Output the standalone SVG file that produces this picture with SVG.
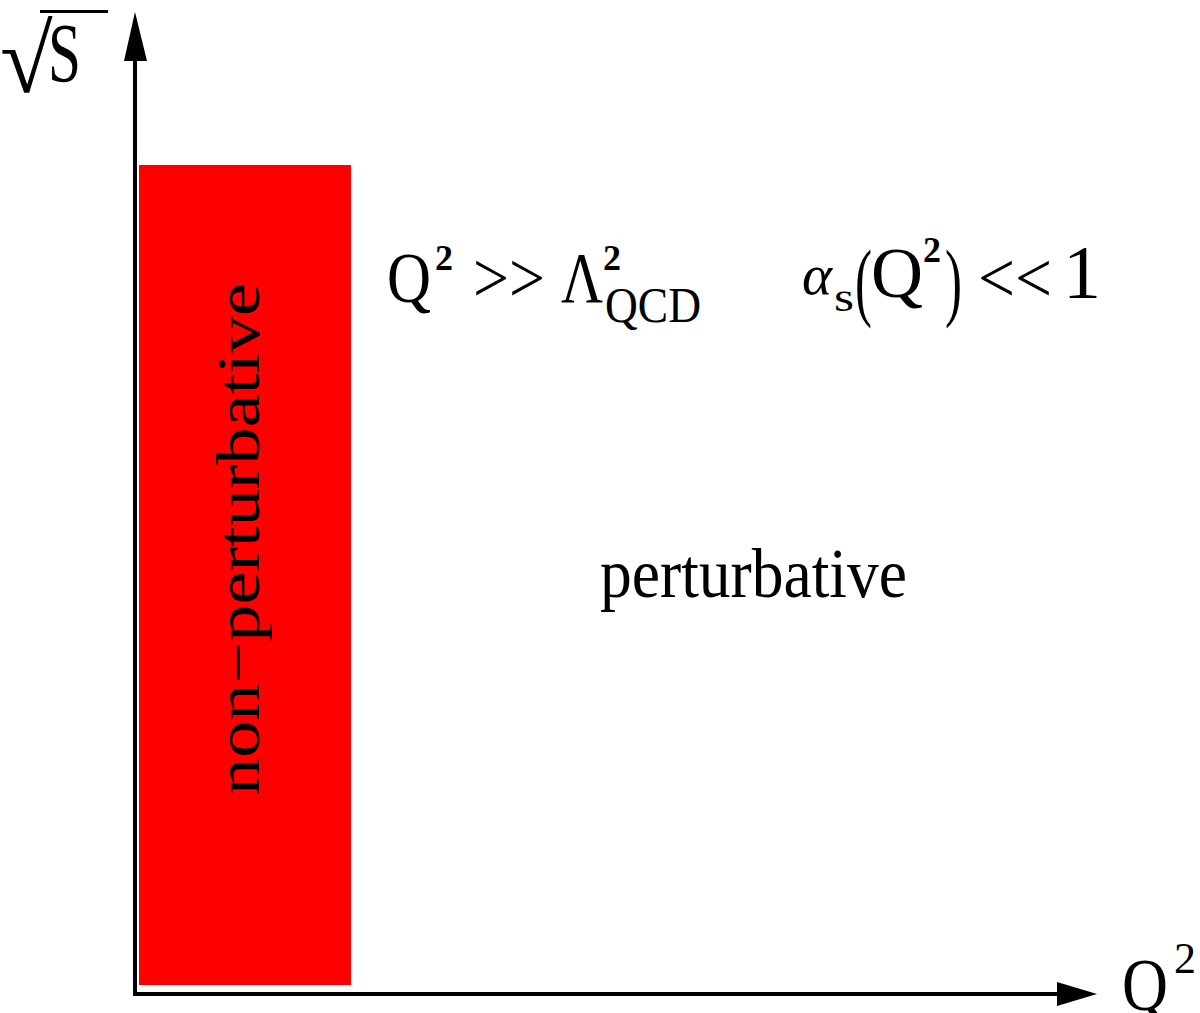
<svg xmlns="http://www.w3.org/2000/svg" width="1200" height="1013" viewBox="0 0 1200 1013">
<style>
.t{font-family:"Liberation Serif","Times New Roman",serif;fill:#000}
.ax{stroke:#000;stroke-width:4;fill:none}
</style>
<rect width="1200" height="1013" fill="#fff"/>
<g id="region-nonpert">
<rect x="139" y="165" width="212" height="820" fill="#ff0000"/>
<text class="t" transform="translate(259,795) rotate(-90)" font-size="62" textLength="512" lengthAdjust="spacingAndGlyphs">non−perturbative</text>
</g>
<g id="axes">
<line class="ax" x1="135" y1="58" x2="135" y2="996"/>
<line class="ax" x1="133" y1="994" x2="1060" y2="994"/>
<polygon points="135,12 147,61 124,61" fill="#000"/>
<polygon points="1097,994 1057,982 1057,1006" fill="#000"/>
</g>
<g id="label-sqrt-s">
<text class="t" x="0" y="92" font-size="96" font-family="DejaVu Serif">√</text>
<line x1="40" y1="11.5" x2="108" y2="11.5" stroke="#000" stroke-width="3"/>
<text class="t" x="48" y="82" font-size="84" textLength="33" lengthAdjust="spacingAndGlyphs">S</text>
</g>
<g id="label-q2">
<text class="t" x="1122" y="1010" font-size="74" textLength="46" lengthAdjust="spacingAndGlyphs">Q</text>
<text class="t" x="1174" y="973" font-size="44">2</text>
</g>
<g id="formula-1">
<text class="t" x="387" y="302" font-size="72" textLength="44" lengthAdjust="spacingAndGlyphs">Q</text>
<text class="t" x="435" y="270" font-size="36" font-weight="bold">2</text>
<text class="t" x="473" y="302" font-size="72" textLength="72" lengthAdjust="spacingAndGlyphs">&gt;&gt;</text>
<text class="t" x="561" y="302" font-size="72" textLength="42" lengthAdjust="spacingAndGlyphs">Λ</text>
<text class="t" x="603" y="270" font-size="36" font-weight="bold">2</text>
<text class="t" x="605" y="322" font-size="50" textLength="96" lengthAdjust="spacingAndGlyphs">QCD</text>
</g>
<g id="formula-2">
<text class="t" x="802" y="294" font-size="56" font-style="italic" textLength="30" lengthAdjust="spacingAndGlyphs">α</text>
<text class="t" x="834" y="311" font-size="40" textLength="20" lengthAdjust="spacingAndGlyphs">s</text>
<text class="t" x="855" y="310" font-size="86" textLength="17" lengthAdjust="spacingAndGlyphs">(</text>
<text class="t" x="871" y="297" font-size="72" textLength="52" lengthAdjust="spacingAndGlyphs">Q</text>
<text class="t" x="923" y="262" font-size="36" font-weight="bold">2</text>
<text class="t" x="945" y="310" font-size="86" textLength="17" lengthAdjust="spacingAndGlyphs">)</text>
<text class="t" x="978" y="302" font-size="72" textLength="74" lengthAdjust="spacingAndGlyphs">&lt;&lt;</text>
<text class="t" x="1063" y="298" font-size="76">1</text>
</g>
<g id="label-pert">
<text class="t" x="600" y="597" font-size="70" textLength="307" lengthAdjust="spacingAndGlyphs">perturbative</text>
</g>
</svg>
